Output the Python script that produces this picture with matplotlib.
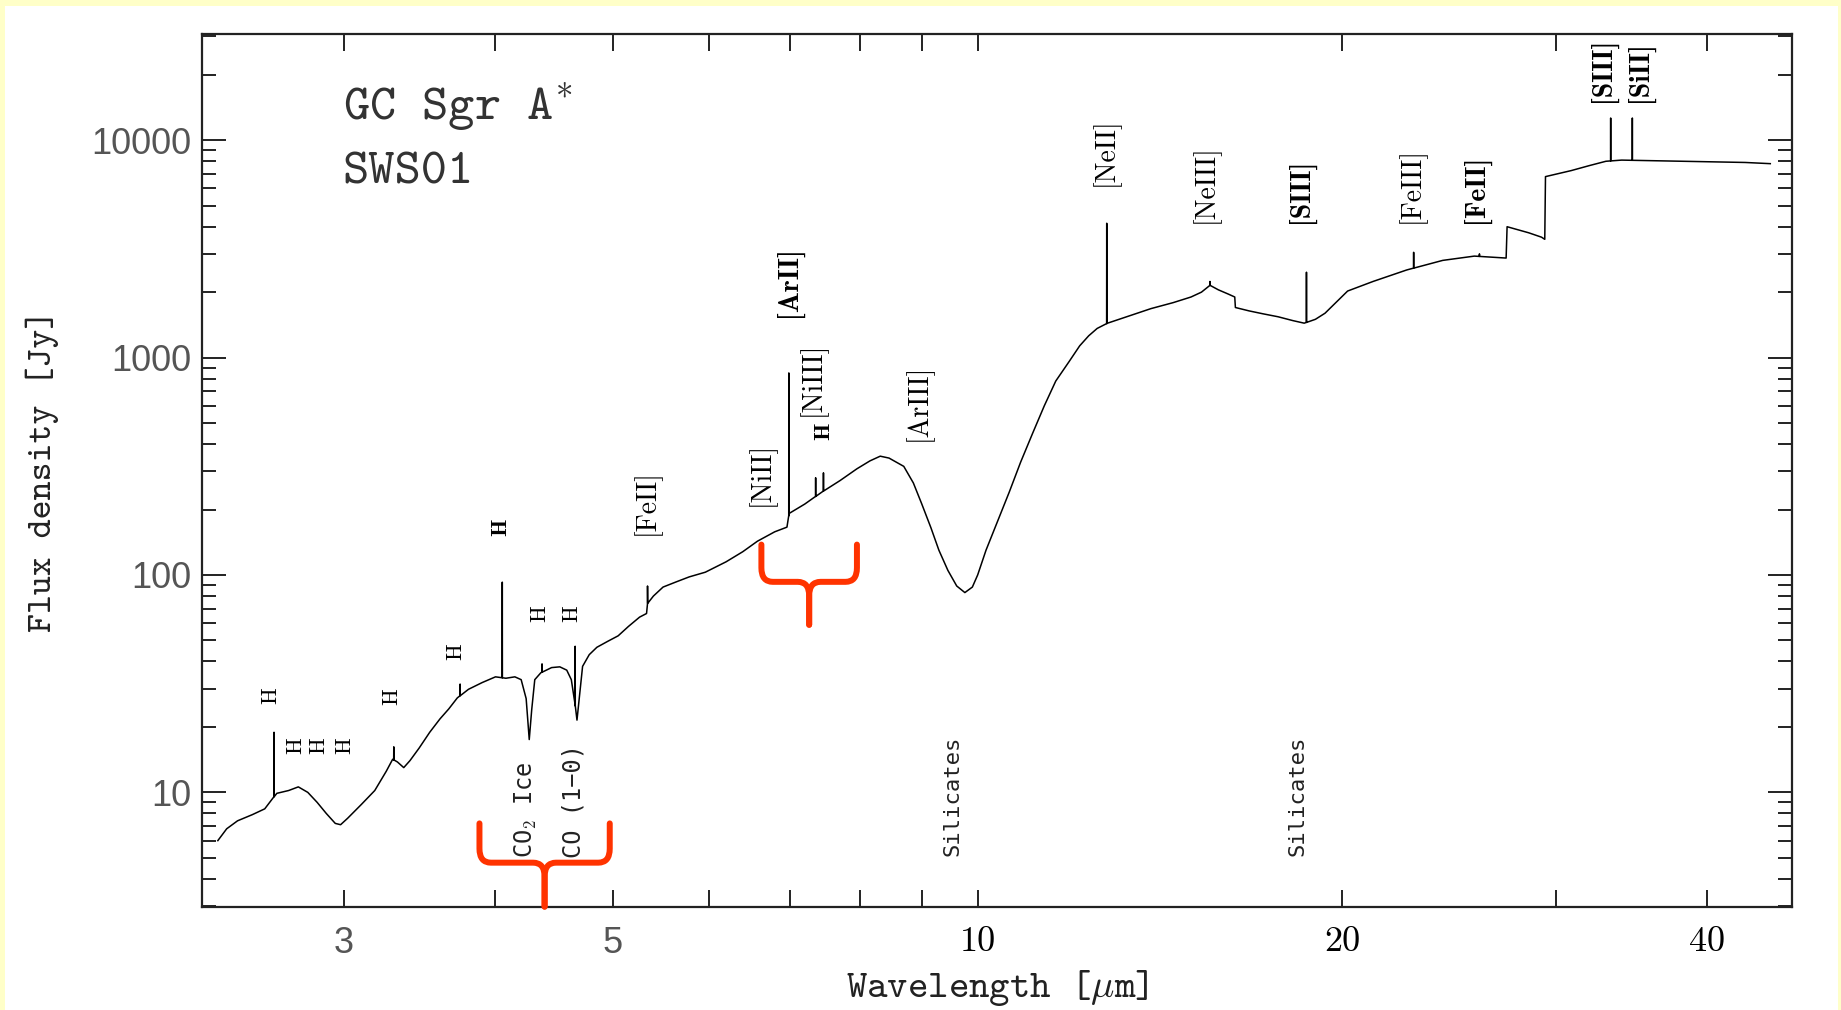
import numpy as np
import matplotlib
matplotlib.use("Agg")
import matplotlib.pyplot as plt
from matplotlib.path import Path
from matplotlib.patches import PathPatch, Rectangle
from matplotlib.ticker import FixedLocator, LogLocator, NullFormatter

plt.rcParams['mathtext.fontset'] = 'cm'

# continuum of the ISO-SWS spectrum (wavelength in micron, flux in Jy)
cont_wl = [2.36, 2.40, 2.45, 2.52, 2.58, 2.62, 2.64, 2.70, 2.75, 2.80, 2.85, 2.90,
           2.95, 2.98, 3.02, 3.10, 3.18, 3.25, 3.29, 3.32, 3.36, 3.40, 3.46, 3.53,
           3.60, 3.66, 3.72, 3.80, 3.90, 4.00, 4.08, 4.15, 4.20, 4.24, 4.265, 4.285,
           4.31, 4.36, 4.45, 4.52, 4.58, 4.62, 4.65, 4.67, 4.69, 4.72, 4.78, 4.85,
           4.95, 5.05, 5.15, 5.26, 5.33, 5.34, 5.40, 5.50, 5.64, 5.78, 5.96, 6.20,
           6.40, 6.58, 6.80, 6.96, 6.99, 7.20, 7.44, 7.70, 7.95, 8.15, 8.31, 8.45,
           8.69, 8.85, 8.99, 9.15, 9.29, 9.45, 9.61, 9.76, 9.90, 10.00, 10.16, 10.40,
           10.62, 10.85, 11.10, 11.35, 11.60, 11.90, 12.14, 12.35, 12.55, 12.80, 13.27,
           13.9, 14.5, 15.0, 15.3, 15.55, 15.8, 16.1, 16.3, 16.32, 16.75, 17.2, 17.7,
           18.2, 18.6, 19.0, 19.35, 20.2, 21.2, 22.6, 24.2, 25.7, 27.3, 27.35, 27.8,
           28.5, 29.2, 29.38, 29.42, 30.9, 32.0, 33.0, 34.0, 36.0, 40.0, 43.0, 45.1]
cont_flux = [6.0, 6.8, 7.4, 7.9, 8.4, 9.4, 9.9, 10.2, 10.6, 10.0, 9.0, 8.0,
             7.2, 7.1, 7.6, 8.8, 10.2, 12.5, 14.2, 13.8, 13.0, 14.0, 16.0, 18.9,
             21.8, 24.2, 27.2, 29.8, 32.0, 34.0, 33.5, 34.0, 33.0, 27.0, 17.5, 24.0,
             33.0, 35.5, 37.5, 37.8, 36.5, 33.0, 26.0, 21.5, 27.0, 38.0, 43.0, 46.5,
             49.5, 52.5, 58.0, 64.0, 66.5, 74.0, 80.0, 88.0, 93.0, 98.0, 103, 115,
             128, 143, 158, 166, 192, 212, 241, 272, 308, 335, 352, 345,
             316, 265, 213, 165, 130, 105, 89, 83, 88, 100, 130, 180,
             241, 330, 448, 600, 780, 960, 1133, 1260, 1362, 1440, 1541,
             1680, 1790, 1900, 2000, 2150, 2050, 1960, 1900, 1700, 1640, 1590, 1541,
             1480, 1440, 1500, 1600, 2024, 2240, 2530, 2800, 2930, 2870, 4000, 3900,
             3750, 3580, 3500, 6800, 7250, 7650, 8000, 8100, 8050, 7950, 7900, 7800]

# emission line peaks
line_wl = [2.626, 3.297, 3.74, 4.052, 4.37, 4.654, 5.34, 6.985, 7.35, 7.46,
           12.78, 15.55, 18.68, 22.9, 25.95, 33.3, 34.7]
line_peak = [18.9, 16.2, 31.5, 92.7, 39, 47, 89, 850, 280, 295,
             4150, 2240, 2470, 3050, 3000, 12650, 12650]

# line identifications: text, wavelength, flux of label bottom, bold
ion_text = ["[FeII]", "[NiII]", "[ArII]", "[NiIII]", "[ArIII]", "[NeII]", "[NeIII]",
            "[SIII]", "[FeIII]", "[FeII]", "[SIII]", "[SiII]"]
ion_wl = [5.33, 6.63, 6.98, 7.31, 8.93, 12.75, 15.4, 18.5, 22.8, 25.8, 32.8, 35.2]
ion_flux = [153, 208, 1540, 540, 415, 6170, 4150, 4150, 4150, 4150, 15050, 15050]
ion_bold = [False, False, True, False, False, False, False, True, False, True, True, True]

# hydrogen recombination line markers (label centres)
h_wl = [2.61, 2.735, 2.86, 3.0, 3.28, 3.71, 4.04, 4.35, 4.62, 7.47]
h_flux = [28, 16.4, 16.4, 16.4, 27.6, 44.2, 166, 66.5, 66.5, 458]
h_bold = [False, False, False, False, False, False, True, False, False, True]

# solid-state features (label bottoms)
feat_text = ["CO$_2$ Ice", "CO (1\u22120)", "Silicates", "Silicates"]
feat_wl = [4.24, 4.64, 9.54, 18.36]
feat_flux = [5.0, 5.0, 5.1, 5.1]

# red braces: left/right wavelength, top of arms, bar level, tip
brace_left = [3.88, 6.63]
brace_right = [4.97, 7.95]
brace_top = [7.2, 138]
brace_bar = [4.75, 93]
brace_tip = [2.98, 59]

xticks = [3, 4, 5, 6, 7, 8, 9, 10, 20, 30, 40]
xlabels = ["3", "", "5", "", "", "", "", "10", "20", "", "40"]
yticks = [10, 100, 1000, 10000]
ylabels = ["10", "100", "1000", "10000"]

# build spectrum with lines inserted
wl = list(cont_wl)
fl = list(cont_flux)
lc = np.exp(np.interp(np.log(line_wl), np.log(cont_wl), np.log(cont_flux)))
for w, p, c in zip(line_wl, line_peak, lc):
    eps = w * 0.0002
    wl += [w - eps, w, w + eps]
    fl += [c, p, c]
order = np.argsort(wl, kind='stable')
wl = np.array(wl)[order]
fl = np.array(fl)[order]

fig = plt.figure(figsize=(18.41, 10.10), dpi=100, facecolor='#FFFFC8')
fig.add_artist(Rectangle((5 / 1841, 0), 1833 / 1841, 1004 / 1010,
                         transform=fig.transFigure, facecolor='white',
                         edgecolor='none', zorder=0))
ax = fig.add_axes([202 / 1841, 1 - 907 / 1010, 1590 / 1841, 873 / 1010])
ax.set_xscale('log')
ax.set_yscale('log')
ax.plot(wl, fl, color='black', lw=1.1)
ax.set_xlim(2.29, 47)
ax.set_ylim(2.97, 30800)

for s in ax.spines.values():
    s.set_linewidth(1.6)
    s.set_color('#222222')

ax.xaxis.set_major_locator(FixedLocator(xticks))
ax.xaxis.set_minor_locator(FixedLocator([]))
ax.set_xticklabels(xlabels)
ax.yaxis.set_major_locator(FixedLocator(yticks))
ax.set_yticklabels(ylabels)
ax.yaxis.set_minor_locator(LogLocator(base=10, subs=np.arange(2, 10)))
ax.yaxis.set_minor_formatter(NullFormatter())
ax.tick_params(axis='x', which='major', direction='in', top=True, length=12,
               width=1.4, pad=14, color='#222222')
ax.tick_params(axis='y', which='major', direction='in', right=True, length=17,
               width=1.4, pad=8, color='#222222')
ax.tick_params(axis='y', which='minor', direction='in', right=True, length=10,
               width=1.4, color='#222222')
for t in ax.get_yticklabels():
    t.set_fontfamily('Liberation Sans')
    t.set_fontsize(26)
    t.set_color('#555555')
for t in ax.get_xticklabels():
    if t.get_text() in ("3", "5"):
        t.set_fontfamily('Liberation Sans')
        t.set_color('#555555')
    else:
        t.set_fontfamily('cmr10')
        t.set_color('black')
    t.set_fontsize(26)

ax.set_xlabel("Wavelength [$\\mu$m]", fontfamily='cmtt10', fontsize=28, color='#222222')
ax.set_ylabel("Flux density [Jy]", fontfamily='cmtt10', fontsize=26, color='#222222')
ax.xaxis.set_label_coords(0.5, -0.07)
ax.yaxis.set_label_coords(-0.09, 0.5)

ax.text(0.0886, 0.915, "GC Sgr A$^{*}$", transform=ax.transAxes, fontfamily='cmtt10',
        fontsize=36, va='center', ha='left', color='#333333')
ax.text(0.0886, 0.84, "SWS01", transform=ax.transAxes, fontfamily='cmtt10',
        fontsize=36, va='center', ha='left', color='#333333')

for txt, w, f, b in zip(ion_text, ion_wl, ion_flux, ion_bold):
    ax.text(w, f, txt, rotation=90, ha='center', va='bottom', fontsize=20,
            fontfamily='cmb10' if b else 'cmr10', color='black')
for w, f, b in zip(h_wl, h_flux, h_bold):
    ax.text(w, f, "H", rotation=90, ha='center', va='center', fontsize=16,
            fontfamily='cmb10' if b else 'cmr10', color='black')
for txt, w, f in zip(feat_text, feat_wl, feat_flux):
    ax.text(w, f, txt, rotation=90, ha='center', va='bottom',
            fontsize=17 if txt.startswith("CO") else 16,
            fontfamily='DejaVu Sans Mono', color='#222222')


def brace(ax, xl, xr, ytop, ybar, ytip, rx=1.022, ry=1.16):
    xc = np.sqrt(xl * xr)
    codes = [Path.MOVETO, Path.LINETO, Path.CURVE3, Path.CURVE3, Path.LINETO,
             Path.CURVE3, Path.CURVE3, Path.LINETO]
    left = [(xl, ytop), (xl, ybar * ry), (xl, ybar), (xl * rx, ybar),
            (xc / rx, ybar), (xc, ybar), (xc, ybar / ry), (xc, ytip)]
    right = [(xr, ytop), (xr, ybar * ry), (xr, ybar), (xr / rx, ybar),
             (xc * rx, ybar), (xc, ybar), (xc, ybar / ry), (xc, ytip)]
    for verts in (left, right):
        ax.add_patch(PathPatch(Path(verts, codes), facecolor='none',
                               edgecolor='#FF3300', lw=4.3, capstyle='round',
                               joinstyle='round', clip_on=False, zorder=5))


for xl, xr, yt, yb, yp in zip(brace_left, brace_right, brace_top, brace_bar, brace_tip):
    brace(ax, xl, xr, yt, yb, yp)

fig.savefig("out.png", dpi=100, facecolor=fig.get_facecolor())
